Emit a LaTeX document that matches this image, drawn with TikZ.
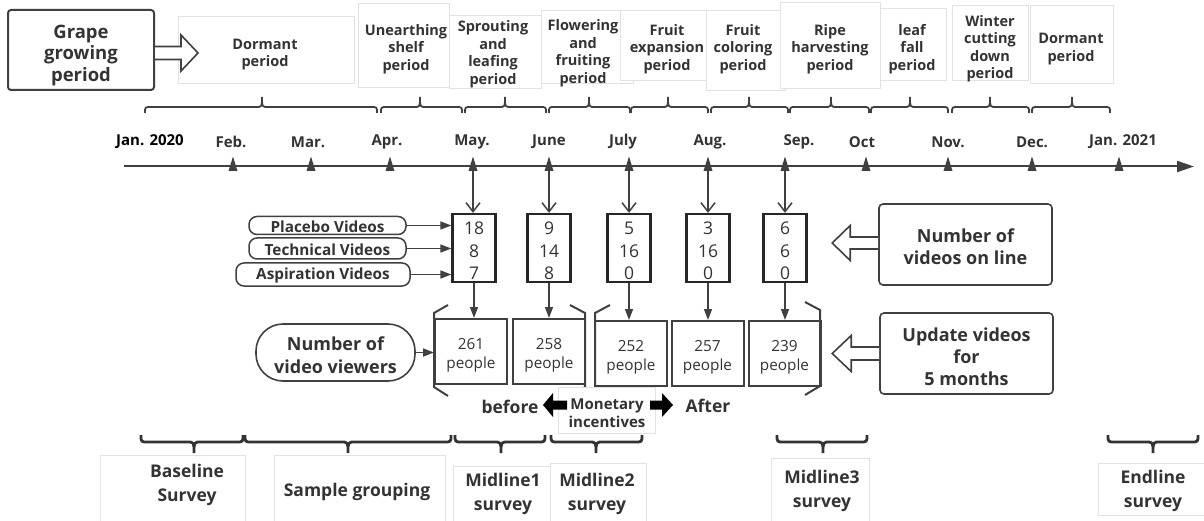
\documentclass[tikz,border=0pt]{standalone}
\usepackage{fontspec}
\setmainfont{Open Sans}
\usetikzlibrary{arrows.meta,calc}

\definecolor{ink}{RGB}{64,64,64}
\definecolor{txt}{RGB}{51,51,51}
\definecolor{faint}{RGB}{226,226,226}

\newcommand\fsz[2]{\fontsize{#1}{#2}\selectfont}

% curly brace with its tip pointing up: x1, x2, tip x, y of the ends
\newcommand\ubrace[4]{%
  \draw[brc] (#1,#4) .. controls (#1,{#4-6}) .. ({#1+6},{#4-6})
    -- ({#3-6},{#4-6}) .. controls (#3,{#4-6}) .. (#3,{#4-16})
    .. controls (#3,{#4-6}) .. ({#3+6},{#4-6})
    -- ({#2-6},{#4-6}) .. controls (#2,{#4-6}) .. (#2,#4);}
% curly brace with its tip pointing down
\newcommand\dbrace[4]{%
  \draw[brcb] (#1,#4) .. controls (#1,{#4+7}) .. ({#1+7},{#4+7})
    -- ({#3-7},{#4+7}) .. controls (#3,{#4+7}) .. (#3,{#4+18})
    .. controls (#3,{#4+7}) .. ({#3+7},{#4+7})
    -- ({#2-7},{#4+7}) .. controls (#2,{#4+7}) .. (#2,#4);}

\tikzset{
  lbl/.style={font=\bfseries\fsz{14.5}{17.5}, text=txt, align=center, inner sep=0pt},
  month/.style={font=\bfseries\fsz{15}{18}, text=txt, inner sep=0pt},
  ghost/.style={draw=faint, fill=white, line width=0.8pt},
  brc/.style={draw=ink, line width=1.8pt},
  brcb/.style={draw=txt, line width=2.8pt},
  brk/.style={draw=ink, line width=2pt, line join=miter},
  axisline/.style={draw=ink, line width=2pt, -{Triangle[length=17pt,width=11pt]}},
  openarr/.style={draw=ink, line width=1.5pt, -{Straight Barb[length=9pt,width=14pt]}},
  farr/.style={draw=ink, line width=1.5pt, -{Triangle[length=11pt,width=8pt]}},
  hollow/.style={draw=ink, fill=white, line width=1.6pt, line join=miter},
  bigbox/.style={draw=ink, line width=2pt, rounded corners=3pt, inner sep=0pt},
  bigtxt/.style={font=\bfseries\fsz{18.5}{21.5}, text=txt, align=center, inner sep=0pt, yshift=-5.5pt},
  countbox/.style={draw=black!85, line width=2.2pt, minimum width=43pt, minimum height=68pt, inner sep=0pt},
  cnttxt/.style={font=\fsz{17.5}{22.5}, text=txt, align=center, inner sep=0pt, yshift=-3pt},
  pbox/.style={draw=ink, line width=2pt, minimum width=72pt, minimum height=65pt, inner sep=0pt},
  ptxt/.style={font=\fsz{15.3}{19}, text=txt, align=center, inner sep=0pt, yshift=-4pt},
  pill/.style={draw=ink, line width=1.5pt, rounded corners=8pt, inner sep=0pt},
  pilltxt/.style={font=\bfseries\fsz{15.3}{17}, text=txt, inner sep=0pt, yshift=-1pt},
  stadium/.style={draw=ink, line width=1.6pt, rounded corners=27pt, minimum width=159pt,
    minimum height=57pt, inner sep=0pt},
  rbox/.style={draw=ink, line width=1.6pt, rounded corners=4pt, minimum width=173pt,
    minimum height=81pt, inner sep=0pt},
  rtxt/.style={font=\bfseries\fsz{18}{22}, text=txt, align=center, inner sep=0pt, yshift=-2.5pt},
  midtxt/.style={font=\bfseries\fsz{17.5}{20}, text=txt, inner sep=0pt},
  blbl/.style={font=\bfseries\fsz{17.5}{23.5}, text=txt, align=center, inner sep=0pt},
}

\begin{document}
\begin{tikzpicture}[x=1pt,y=-1pt]
\useasboundingbox (0,0) rectangle (1204,521);

% ---------- growth stages ----------
\node[bigbox, minimum width=146pt, minimum height=80pt,
  label={[bigtxt]center:{Grape\\growing\\period}}] (grape) at (81,50) {};

\draw[ghost] (178,16) rectangle (354,83);
\draw[ghost] (358,3) rectangle (449,87);
\draw[ghost] (449,15) rectangle (541,88);
\draw[ghost] (541,10) rectangle (633,83);
\draw[ghost] (620,10) rectangle (706,80);
\draw[ghost] (706,10) rectangle (785,90);
\draw[ghost] (780,2) rectangle (880,88);
\draw[ghost] (880,8) rectangle (946,80);
\draw[ghost] (952,5) rectangle (1028,80);
\draw[ghost] (1030,5) rectangle (1113,83);

\draw[hollow] ($(grape.east)+(0,-3.5)$) -- ++(26,0) -- ++(0,-11.5) -- ++(17,18)
  -- ++(-17,18) -- ++(0,-11.5) -- ++(-26,0);

\node[lbl] (s1) at (265,54.5) {Dormant\\period};
\node[lbl] (s2) at (406,49) {Unearthing\\shelf\\period};
\node[lbl] (s3) at (493,54) {Sprouting\\and\\leafing\\period};
\node[lbl] (s4) at (583,53) {Flowering\\and\\fruiting\\period};
\node[lbl] (s5) at (667,49) {Fruit\\expansion\\period};
\node[lbl] (s6) at (743,49) {Fruit\\coloring\\period};
\node[lbl] (s7) at (830,49) {Ripe\\harvesting\\period};
\node[lbl] (s8) at (912,49) {leaf\\fall\\period};
\node[lbl] (s9) at (990,48.5) {Winter\\cutting\\down\\period};
\node[lbl] (s10) at (1071,49) {Dormant\\period};

\ubrace{145}{377}{262}{113}
\ubrace{381}{462}{420}{113}
\ubrace{465}{546}{505}{113}
\ubrace{549}{630}{589}{113}
\ubrace{631}{708}{668}{113}
\ubrace{711}{788}{749}{113}
\ubrace{790}{869}{831}{113}
\ubrace{871}{948}{910}{113}
\ubrace{952}{1029}{990}{113}
\ubrace{1032}{1110}{1072}{113}

% ---------- time axis ----------
\node[month, text=black] (jan0) at (150,142) {Jan. 2020};
\node[month] (feb) at (231,142) {Feb.};
\node[month] (mar) at (308,142) {Mar.};
\node[month] (apr) at (387,142) {Apr.};
\node[month] (may) at (472,142) {May.};
\node[month] (jun) at (549,142) {June};
\node[month] (jul) at (623,142) {July};
\node[month] (aug) at (710,142) {Aug.};
\node[month] (sep) at (799,142) {Sep.};
\node[month] (oct) at (862,142) {Oct};
\node[month] (nov) at (948,142) {Nov.};
\node[month] (dec) at (1032,142) {Dec.};
\node[month] (jan1) at (1123,142) {Jan. 2021};

\coordinate (a0) at (124,166.5);
\coordinate (a1) at (1194,166.5);
\draw[axisline] (a0) -- (a1);
\foreach \x in {233,311,390,473,549,629,708,785,866,948,1032,1119}
  \fill[ink] ({\x-4.5},171) -- (\x,156.5) -- ({\x+4.5},171) -- cycle;

\coordinate (mMay) at (473,166.5);
\coordinate (mJun) at (549,166.5);
\coordinate (mJul) at (629,166.5);
\coordinate (mAug) at (708,166.5);
\coordinate (mSep) at (785,166.5);

% ---------- videos on line ----------
\node[countbox, label={[cnttxt]center:{18\\8\\7}}] (c1) at (474,248) {};
\node[countbox, label={[cnttxt]center:{9\\14\\8}}] (c2) at (549,248) {};
\node[countbox, label={[cnttxt]center:{5\\16\\0}}] (c3) at (629,248) {};
\node[countbox, label={[cnttxt]center:{3\\16\\0}}] (c4) at (708,248) {};
\node[countbox, label={[cnttxt]center:{6\\6\\0}}] (c5) at (785,248) {};

\draw[openarr] (mMay) -- (mMay |- c1.north);
\draw[openarr] (mJun) -- (mJun |- c2.north);
\draw[openarr] (mJul) -- (mJul |- c3.north);
\draw[openarr] (mAug) -- (mAug |- c4.north);
\draw[openarr] (mSep) -- (mSep |- c5.north);

\node[pill, minimum width=157pt, minimum height=18pt,
  label={[pilltxt]center:Placebo Videos}] (pl) at (327.5,225.5) {};
\node[pill, minimum width=157pt, minimum height=21pt,
  label={[pilltxt]center:Technical Videos}] (te) at (327.5,248.5) {};
\node[pill, minimum width=174pt, minimum height=23pt,
  label={[pilltxt]center:Aspiration Videos}] (as) at (323,274.5) {};
\draw[farr] (pl.east) -- (pl.east -| c1.west);
\draw[farr] (te.east) -- (te.east -| c1.west);
\draw[farr] (as.east) -- (as.east -| c1.west);

\node[rbox, label={[rtxt]center:{Number of\\videos on line}}] (nv) at (965.5,244.5) {};
\draw[hollow] ($(nv.west)+(0,-7.5)$) -- ++(-28,0) -- ++(0,-11.5) -- ++(-18,17.5)
  -- ++(18,17.5) -- ++(0,-11.5) -- ++(28,0);

% ---------- viewers ----------
\node[pbox, label={[ptxt]center:{261\\people}}] (p1) at (471,351.5) {};
\node[pbox, label={[ptxt]center:{258\\people}}] (p2) at (549,351.5) {};
\node[pbox, label={[ptxt]center:{252\\people}}] (p3) at (631,353.5) {};
\node[pbox, label={[ptxt]center:{257\\people}}] (p4) at (707.5,353.5) {};
\node[pbox, label={[ptxt]center:{239\\people}}] (p5) at (784.5,353.5) {};

\draw[farr] (c1.south) -- (c1.south |- p1.north);
\draw[farr] (c2.south) -- (c2.south |- p2.north);
\draw[farr] (c3.south) -- (c3.south |- p3.north);
\draw[farr] (c4.south) -- (c4.south |- p4.north);
\draw[farr] (c5.south) -- (c5.south |- p5.north);

\draw[brk] (448,305) -- (434,313) -- (434,387) -- (448,396);
\draw[brk] (570,305) -- (585,313) -- (585,387) -- (570,397);
\draw[brk] (610,305) -- (595,313) -- (595,387) -- (610,397);
\draw[brk] (805,302) -- (820,310) -- (820,386) -- (805,395);

\node[stadium, label={[rtxt, font=\bfseries\fsz{18}{23}]center:{Number of\\video viewers}}] (vv) at (335.5,352.5) {};
\draw[farr] (vv.east) -- (vv.east -| p1.west);

\node[rbox, label={[rtxt, yshift=-0.5pt]center:{Update videos\\for\\5 months}}] (uv) at (966.5,353.5) {};
\draw[hollow] ($(uv.west)+(0,-6.5)$) -- ++(-28,0) -- ++(0,-11.5) -- ++(-19,18)
  -- ++(19,18) -- ++(0,-11.5) -- ++(28,0);

% ---------- incentives ----------
\draw[ghost] (558,387) rectangle (655,433);
\node[lbl, font=\bfseries\fsz{15}{18}] (mi) at (607,413) {Monetary\\incentives};
\node[midtxt] (bf) at (510,407) {before};
\node[midtxt] (af) at (708,406) {After};
\fill[black] (567,400.5) -- (553,400.5) -- (553,393) -- (543,405) -- (553,417)
  -- (553,409.5) -- (567,409.5) -- cycle;
\fill[black] (650,400.5) -- (662,400.5) -- (662,393) -- (673,405) -- (662,417)
  -- (662,409.5) -- (650,409.5) -- cycle;

% ---------- surveys ----------
\dbrace{141}{243}{194}{435}
\dbrace{245}{451}{348}{435}
\dbrace{455}{545}{501}{435}
\dbrace{551}{642}{596}{435}
\dbrace{777}{867}{823}{435}
\dbrace{1108}{1198}{1153}{435}

\draw[ghost] (100,455) rectangle (245,521);
\draw[ghost] (274,455) rectangle (445,521);
\draw[ghost] (453,466) rectangle (550,521);
\draw[ghost] (550,463) rectangle (646,521);
\draw[ghost] (771,458) rectangle (869,521);
\draw[ghost] (1098,463) rectangle (1204,515);

\node[blbl] (bs) at (187,485) {Baseline\\Survey};
\node[blbl] (sg) at (357,492) {Sample grouping};
\node[blbl] (m1) at (503,494) {Midline1\\survey};
\node[blbl] (m2) at (597,494) {Midline2\\survey};
\node[blbl] (m3) at (822,491) {Midline3\\survey};
\node[blbl] (el) at (1153,491) {Endline\\survey};
\end{tikzpicture}
\end{document}
